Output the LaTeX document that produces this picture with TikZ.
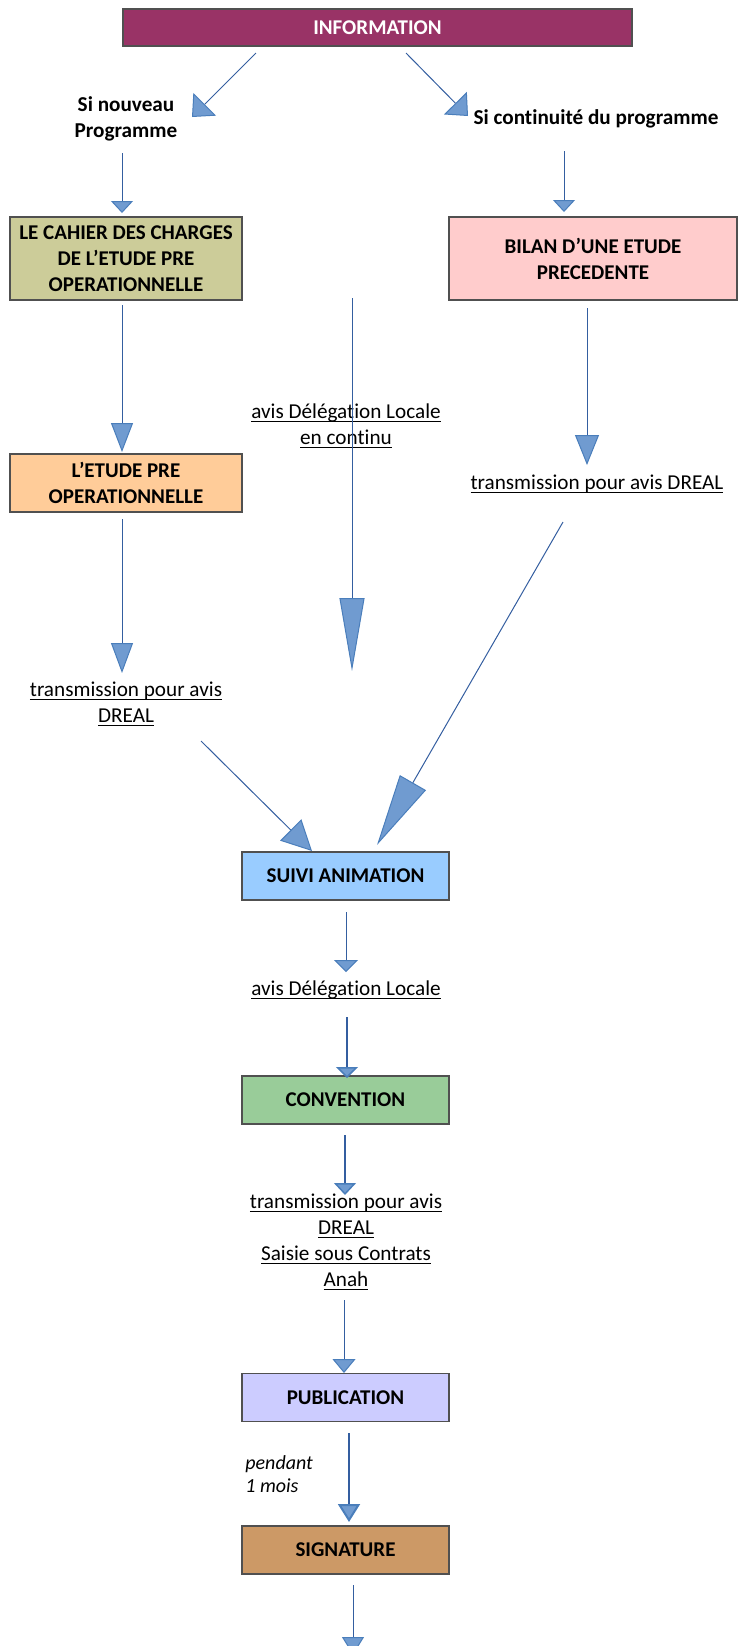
\documentclass[tikz,border=0pt]{standalone}
\usepackage{fontspec}
\setmainfont{Carlito}[Ligatures=NoCommon]
\usetikzlibrary{arrows.meta,scopes,calc}
\newcommand\ulx[1]{\underline{\smash{#1}}\strut}
\definecolor{infoPurple}{RGB}{153,51,102}
\definecolor{cahierOlive}{RGB}{204,204,153}
\definecolor{bilanPink}{RGB}{255,204,204}
\definecolor{etudeOrange}{RGB}{255,204,153}
\definecolor{suiviBlue}{RGB}{153,204,255}
\definecolor{conventionGreen}{RGB}{153,204,153}
\definecolor{publicationLilac}{RGB}{204,204,255}
\definecolor{signatureBrown}{RGB}{204,153,102}
\definecolor{boxGray}{RGB}{80,80,80}
\definecolor{flowLine}{RGB}{52,94,160}
\definecolor{headBlue}{RGB}{112,155,208}
\definecolor{headLine}{RGB}{74,126,187}

\begin{document}
\begin{tikzpicture}[x=0.5pt,y=-0.5pt,font=\fontsize{10.6}{13}\selectfont,
    flow/.style 2 args={-{Triangle[length=#1,width=#2,fill=headBlue,color=headLine]}}]
    \useasboundingbox (0,0) rectangle (738,1646);
    {[every node/.style={draw=boxGray, line width=0.6pt, font=\fontsize{10.5}{13}\selectfont\bfseries, align=center, inner sep=0pt}]
    \node[fill=infoPurple, text=white, minimum width=254.5pt, minimum height=18.5pt] (INFO) at (377.5,27.5) {INFORMATION};
    \node[fill=cahierOlive, minimum width=116pt, minimum height=41.5pt] (CDC) at (126,258.5) {LE CAHIER DES CHARGES\\DE L’ETUDE PRE\\OPERATIONNELLE};
    \node[fill=bilanPink, minimum width=144pt, minimum height=41.5pt] (BIL) at (593,258.5) {BILAN D’UNE ETUDE\\PRECEDENTE};
    \node[fill=etudeOrange, minimum width=116pt, minimum height=29pt] (ETU) at (126,483) {L’ETUDE PRE\\OPERATIONNELLE};
    \node[fill=suiviBlue, minimum width=103.5pt, minimum height=24pt] (SUI) at (345.5,876) {SUIVI ANIMATION};
    \node[fill=conventionGreen, minimum width=103.5pt, minimum height=24pt] (CON) at (345.5,1100) {CONVENTION};
    \node[fill=publicationLilac, minimum width=103.5pt, minimum height=24pt] (PUB) at (345.5,1397.5) {PUBLICATION};
    \node[fill=signatureBrown, minimum width=103.5pt, minimum height=24pt] (SIG) at (345.5,1550) {SIGNATURE};
    }
    {[every node/.style={align=center, inner sep=0pt}]
    \node[font=\fontsize{10.6}{13}\selectfont\bfseries] (SN) at (126,119) {Si nouveau\\Programme};
    \node[font=\fontsize{10.6}{13}\selectfont\bfseries] (SC) at (596,119) {Si continuité du programme};
    \node (AVL) at (346,426) {\ulx{avis Délégation Locale}\\\ulx{en continu}};
    \node (TRD) at (597,484) {\ulx{transmission pour avis DREAL}};
    \node (TRG) at (126,704) {\ulx{transmission pour avis}\\\ulx{DREAL}};
    \node (AV2) at (346,990) {\ulx{avis Délégation Locale}};
    \node (TR3) at (346,1242.5) {\ulx{transmission pour avis}\\\ulx{DREAL}\\\ulx{Saisie sous Contrats}\\\ulx{Anah}};
    \node[align=left, anchor=west, font=\fontsize{10}{11.5}\selectfont\itshape] (PEN) at (245,1474.5) {pendant\\1 mois};
    }
    {[draw=flowLine, line width=0.5pt]
      \draw[flow={9pt}{16pt}] ($(INFO)+(-121.5,25.5)$) -- ($(SN)+(66,-2)$);
      \draw[flow={9pt}{16pt}] ($(INFO)+(28.5,25.5)$) -- ($(SC)+(-128,-3)$);
      \draw[flow={6pt}{11pt}] ($(SN)+(-4,34)$) -- ($(CDC)+(-4,-45.5)$);
      \draw[flow={6pt}{11pt}] ($(SC)+(-32,32)$) -- ($(BIL)+(-29,-46.5)$);
      \draw[flow={14.5pt}{11pt}] ($(CDC)+(-4,46.5)$) -- ($(ETU)+(-4,-31)$);
      \draw[flow={36.5pt}{12.5pt}] ($(AVL)+(6,-128)$) -- ($(AVL)+(6,245)$);
      \draw[flow={15pt}{12pt}] ($(BIL)+(-6,49.5)$) -- ($(TRD)+(-10,-19)$);
      \draw[flow={15pt}{11pt}] ($(ETU)+(-4,36)$) -- ($(TRG)+(-4,-31)$);
      \draw[flow={15pt}{15pt}] ($(TRG)+(75,37)$) -- ($(SUI)+(-33.5,-25)$);
      \draw[flow={36pt}{15pt}] ($(TRD)+(-34,38)$) -- ($(SUI)+(31.5,-31)$);
      \draw[flow={6pt}{12pt}] ($(SUI)+(0.5,36)$) -- ($(AV2)+(0,-18)$);
      \draw[flow={5.5pt}{11pt}, line width=0.75pt] ($(AV2)+(1,27)$) -- ($(CON)+(1.5,-22)$);
      \draw[flow={6pt}{11pt}, line width=0.75pt] ($(CON)+(-0.5,35)$) -- ($(TR3)+(-1,-47.5)$);
      \draw[flow={7pt}{11.5pt}] ($(TR3)+(-2,57.5)$) -- ($(PUB)+(-1.5,-24.5)$);
      \draw[flow={9pt}{11pt}, line width=1pt] ($(PUB)+(3.5,35.5)$) -- ($(SIG)+(3.5,-28)$);
      \draw[flow={9pt}{11pt}] ($(SIG)+(7.5,35)$) -- ($(SIG)+(7.5,105)$);
    }
\end{tikzpicture}
\end{document}
